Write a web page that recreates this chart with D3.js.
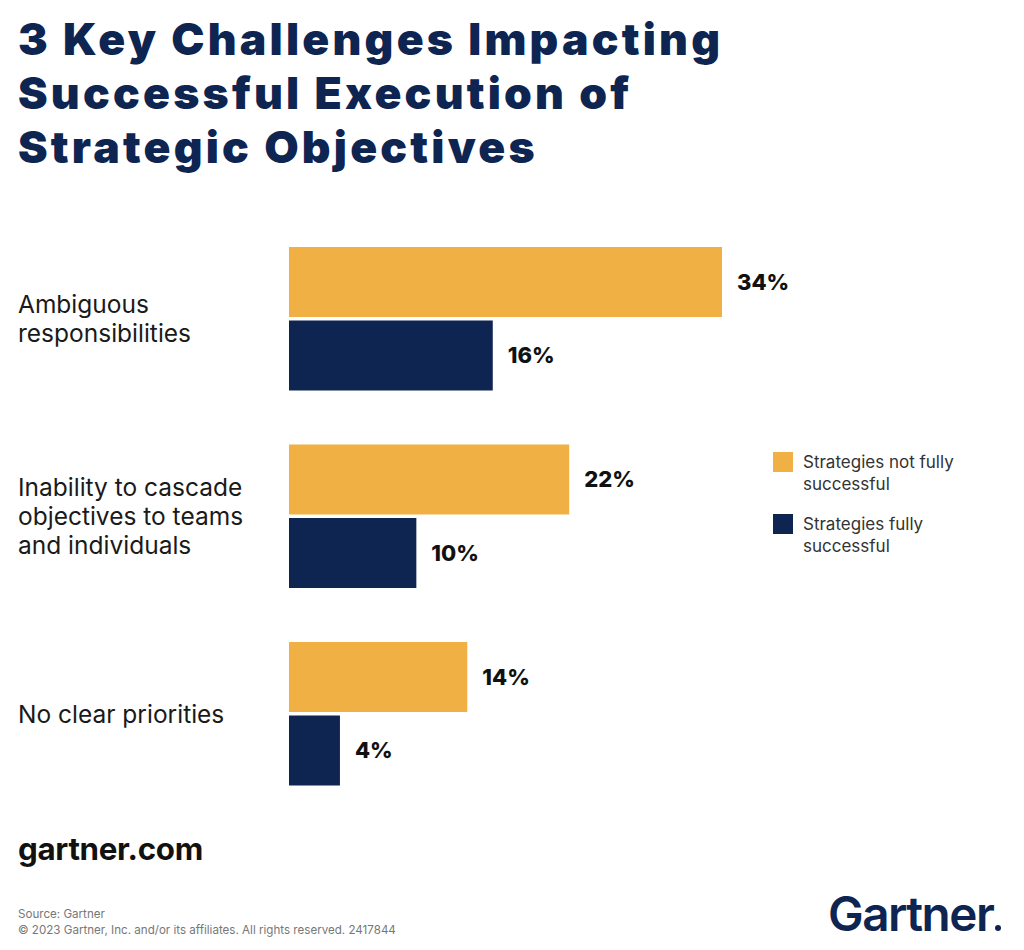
<!DOCTYPE html>
<html><head><meta charset="utf-8">
<script src="https://cdn.jsdelivr.net/npm/d3@7"></script>
<style>body{margin:0;background:#fff}svg{display:block}</style>
</head><body>
<script>
const categories = [
  ["Ambiguous", "responsibilities"],
  ["Inability to cascade", "objectives to teams", "and individuals"],
  ["No clear priorities"]
];
const seriesNames = [["Strategies not fully", "successful"], ["Strategies fully", "successful"]];
const notFully = [34, 22, 14];
const fully = [16, 10, 4];
const titleLines = ["3 Key Challenges Impacting", "Successful Execution of", "Strategic Objectives"];

const W = 1024, H = 950;
const NAVY = "#0e2552", ORANGE = "#f0b043";
const FONT = "Inter, 'Noto Sans', sans-serif";
const svg = d3.select("body").append("svg").attr("width", W).attr("height", H);

function fit(sel, target) {
  const w = sel.node().getComputedTextLength();
  const fs = parseFloat(sel.attr("font-size"));
  sel.attr("font-size", fs * target / w);
}

// Title
const TFS = 44.5;
const tl = titleLines.map((t, i) => svg.append("text").attr("x", 18).attr("y", 55 + i * 54)
  .attr("font-family", FONT).attr("font-weight", 900)
  .attr("font-size", TFS).attr("fill", NAVY).text(t));
const w0 = tl[0].node().getComputedTextLength();
const ls = (702 - w0) / (titleLines[0].length - 1);
tl.forEach(s => s.attr("letter-spacing", ls));

const x = d3.scaleLinear().domain([0, 34]).range([289, 722]);
const groupY = d3.scaleBand().domain(d3.range(3)).range([247, 247 + 3 * 197.5]).paddingInner(0);
const barH = 70, gap = 3.5;

const g = svg.append("g");
const data = categories.map((c, i) => ({c, i, a: notFully[i], b: fully[i]}));

data.forEach(d => {
  const y0 = groupY(d.i);
  [[d.a, ORANGE, 0], [d.b, NAVY, 1]].forEach(([v, col, k]) => {
    const yy = y0 + k * (barH + gap);
    g.append("rect").attr("x", x(0)).attr("y", yy).attr("width", x(v) - x(0)).attr("height", barH).attr("fill", col);
    g.append("text").attr("x", x(v) + 15).attr("y", yy + barH / 2).attr("dy", "0.36em")
      .attr("font-family", FONT).attr("font-weight", 800)
      .attr("font-size", 22).attr("fill", "#111").text(v + "%");
  });
  const center = y0 + (2 * barH + gap) / 2;
  const n = d.c.length, lh = 29;
  d.c.forEach((line, j) => {
    g.append("text").attr("x", 18).attr("y", center + (j - (n - 1) / 2) * lh).attr("dy", "0.36em")
      .attr("font-family", FONT).attr("font-weight", 400)
      .attr("font-size", 24.5).attr("fill", "#1a1a1a").text(line);
  });
});

// Legend
const legY = [452, 514];
seriesNames.forEach((lines, i) => {
  svg.append("rect").attr("x", 773).attr("y", legY[i]).attr("width", 20).attr("height", 20)
    .attr("fill", i === 0 ? ORANGE : NAVY);
  lines.forEach((l, j) => {
    svg.append("text").attr("x", 803).attr("y", legY[i] + 10 + j * 22).attr("dy", "0.36em")
      .attr("font-family", FONT).attr("font-size", 17)
      .attr("fill", "#333").text(l);
  });
});

// Footer
const gc = svg.append("text").attr("x", 18).attr("y", 860).attr("font-family", FONT)
  .attr("font-weight", 700).attr("font-size", 30).attr("fill", "#111").attr("letter-spacing", -0.3).text("gartner.com");
fit(gc, 185);
svg.append("text").attr("x", 18).attr("y", 918).attr("font-family", FONT)
  .attr("font-size", 11.6).attr("fill", "#777").text("Source: Gartner");
svg.append("text").attr("x", 18).attr("y", 934).attr("font-family", FONT)
  .attr("font-size", 11.6).attr("fill", "#777").text("© 2023 Gartner, Inc. and/or its affiliates. All rights reserved. 2417844");
const logo = svg.append("text").attr("x", 828).attr("y", 931).attr("font-family", FONT)
  .attr("font-weight", 600).attr("font-size", 46).attr("fill", NAVY).attr("letter-spacing", -1.5).text("Gartner");
fit(logo, 165);
svg.append("circle").attr("cx", 998).attr("cy", 928).attr("r", 3).attr("fill", NAVY);
</script>
</body></html>
